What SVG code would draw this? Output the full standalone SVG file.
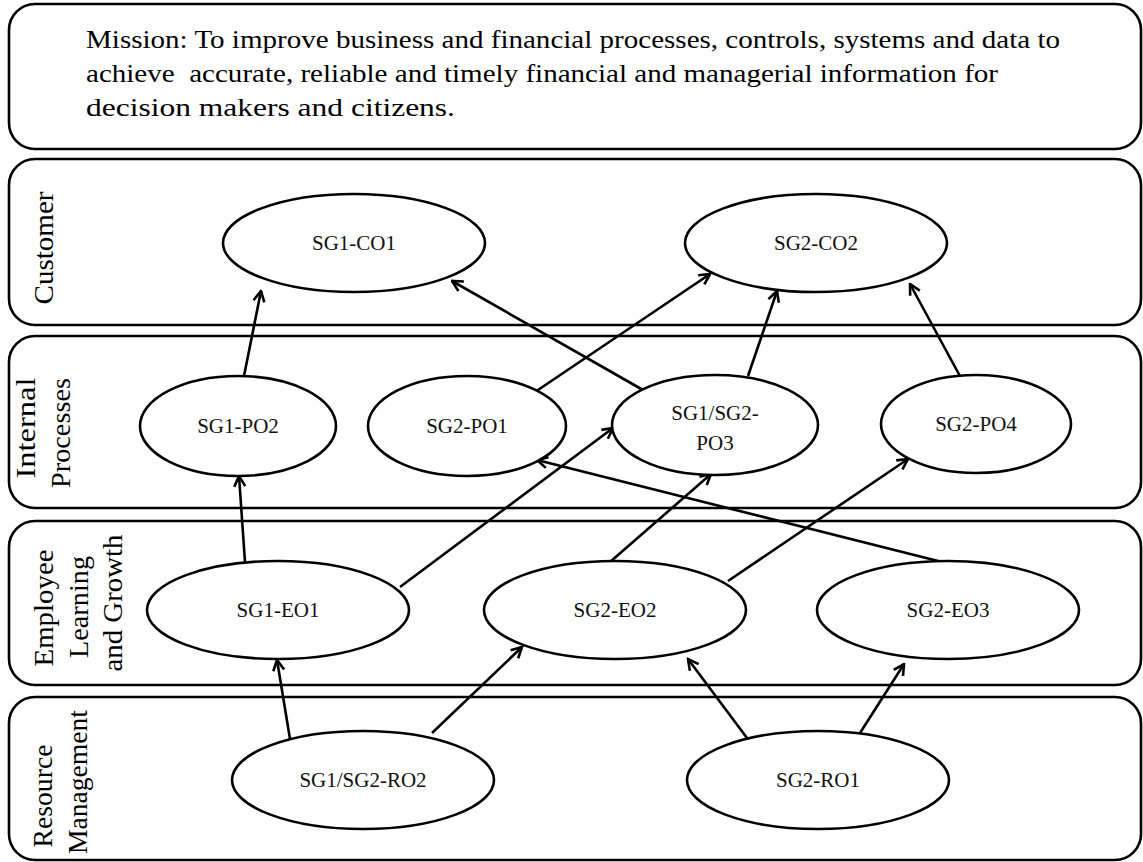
<svg xmlns="http://www.w3.org/2000/svg" width="1143" height="862" viewBox="0 0 1143 862">
<defs>
<style>
.lane{fill:#fff;stroke:#000;stroke-width:2.6}
.node ellipse{fill:#fff;stroke:#000;stroke-width:2.6}
.node text{font-family:"Liberation Serif","Times New Roman",serif;font-size:21px;fill:#111;text-anchor:middle}
.mt{font-family:"Liberation Serif","Times New Roman",serif;font-size:26px;fill:#000}
.ll{font-family:"Liberation Serif","Times New Roman",serif;font-size:28px;fill:#000;text-anchor:middle}
.conn line{stroke:#000;stroke-width:2.6;marker-end:url(#ah)}
</style>
<marker id="ah" viewBox="0 0 14 14" refX="12.5" refY="7" markerWidth="14" markerHeight="14" orient="auto" markerUnits="userSpaceOnUse">
<path d="M2,1.5 L12.5,7 L2,12.5" fill="none" stroke="#000" stroke-width="2.6" stroke-linejoin="miter"/>
</marker>
</defs>
<rect width="1143" height="862" fill="#fff"/>

<g id="mission">
<rect class="lane" x="9" y="4" width="1132" height="145" rx="26"/>
<text class="mt" x="86" y="48" textLength="974" lengthAdjust="spacingAndGlyphs">Mission: To improve business and financial processes, controls, systems and data to</text>
<text class="mt" x="86" y="82" textLength="912" lengthAdjust="spacingAndGlyphs" xml:space="preserve">achieve  accurate, reliable and timely financial and managerial information for</text>
<text class="mt" x="86" y="116" textLength="369" lengthAdjust="spacingAndGlyphs">decision makers and citizens.</text>
</g>

<g id="lane-customer">
<rect class="lane" x="9" y="159" width="1132" height="166" rx="26"/>
<text class="ll" transform="translate(53,248) rotate(-90)" textLength="113" lengthAdjust="spacingAndGlyphs">Customer</text>
</g>
<g id="lane-internal">
<rect class="lane" x="9" y="336" width="1132" height="172" rx="26"/>
<text class="ll" transform="translate(35,428) rotate(-90)" textLength="101" lengthAdjust="spacingAndGlyphs">Internal</text>
<text class="ll" transform="translate(70,433) rotate(-90)" textLength="110" lengthAdjust="spacingAndGlyphs">Processes</text>
</g>
<g id="lane-employee">
<rect class="lane" x="9" y="521" width="1132" height="164" rx="26"/>
<text class="ll" transform="translate(53,608) rotate(-90)" textLength="117" lengthAdjust="spacingAndGlyphs">Employee</text>
<text class="ll" transform="translate(88,607) rotate(-90)" textLength="102" lengthAdjust="spacingAndGlyphs">Learning</text>
<text class="ll" transform="translate(122,603) rotate(-90)" textLength="137" lengthAdjust="spacingAndGlyphs">and Growth</text>
</g>
<g id="lane-resource">
<rect class="lane" x="9" y="697" width="1132" height="163" rx="26"/>
<text class="ll" transform="translate(52,796) rotate(-90)" textLength="103" lengthAdjust="spacingAndGlyphs">Resource</text>
<text class="ll" transform="translate(87,782) rotate(-90)" textLength="144" lengthAdjust="spacingAndGlyphs">Management</text>
</g>

<g id="connectors" class="conn">
<line x1="244" y1="376" x2="261" y2="291"/>
<line x1="643" y1="390" x2="452" y2="281"/>
<line x1="535" y1="392" x2="710" y2="274"/>
<line x1="748" y1="376" x2="777" y2="291"/>
<line x1="961" y1="378" x2="910" y2="284"/>
<line x1="245" y1="562" x2="239" y2="476"/>
<line x1="400" y1="587" x2="613" y2="428"/>
<line x1="610" y1="562" x2="711" y2="474"/>
<line x1="728" y1="581" x2="908" y2="459"/>
<line x1="946" y1="563" x2="537" y2="460"/>
<line x1="290" y1="739" x2="277" y2="660"/>
<line x1="432" y1="733" x2="522" y2="647"/>
<line x1="747" y1="738" x2="688" y2="659"/>
<line x1="860" y1="733" x2="904" y2="664"/>
</g>

<g id="SG1-CO1" class="node"><ellipse cx="354" cy="243" rx="131" ry="49"/><text x="354" y="250">SG1-CO1</text></g>
<g id="SG2-CO2" class="node"><ellipse cx="816" cy="243" rx="131" ry="49"/><text x="816" y="250">SG2-CO2</text></g>
<g id="SG1-PO2" class="node"><ellipse cx="238" cy="426" rx="98" ry="50"/><text x="238" y="433">SG1-PO2</text></g>
<g id="SG2-PO1" class="node"><ellipse cx="467" cy="426" rx="99" ry="50"/><text x="467" y="433">SG2-PO1</text></g>
<g id="SG1-SG2-PO3" class="node"><ellipse cx="715" cy="425" rx="103" ry="50"/><text x="715" y="420">SG1/SG2-</text><text x="715" y="450">PO3</text></g>
<g id="SG2-PO4" class="node"><ellipse cx="976" cy="424" rx="95" ry="49"/><text x="976" y="431">SG2-PO4</text></g>
<g id="SG1-EO1" class="node"><ellipse cx="278" cy="610" rx="131" ry="49"/><text x="278" y="617">SG1-EO1</text></g>
<g id="SG2-EO2" class="node"><ellipse cx="615" cy="610" rx="131" ry="49"/><text x="615" y="617">SG2-EO2</text></g>
<g id="SG2-EO3" class="node"><ellipse cx="948" cy="610" rx="131" ry="49"/><text x="948" y="617">SG2-EO3</text></g>
<g id="SG1-SG2-RO2" class="node"><ellipse cx="363" cy="780" rx="131" ry="49"/><text x="363" y="787">SG1/SG2-RO2</text></g>
<g id="SG2-RO1" class="node"><ellipse cx="818" cy="780" rx="131" ry="49"/><text x="818" y="787">SG2-RO1</text></g>
</svg>
